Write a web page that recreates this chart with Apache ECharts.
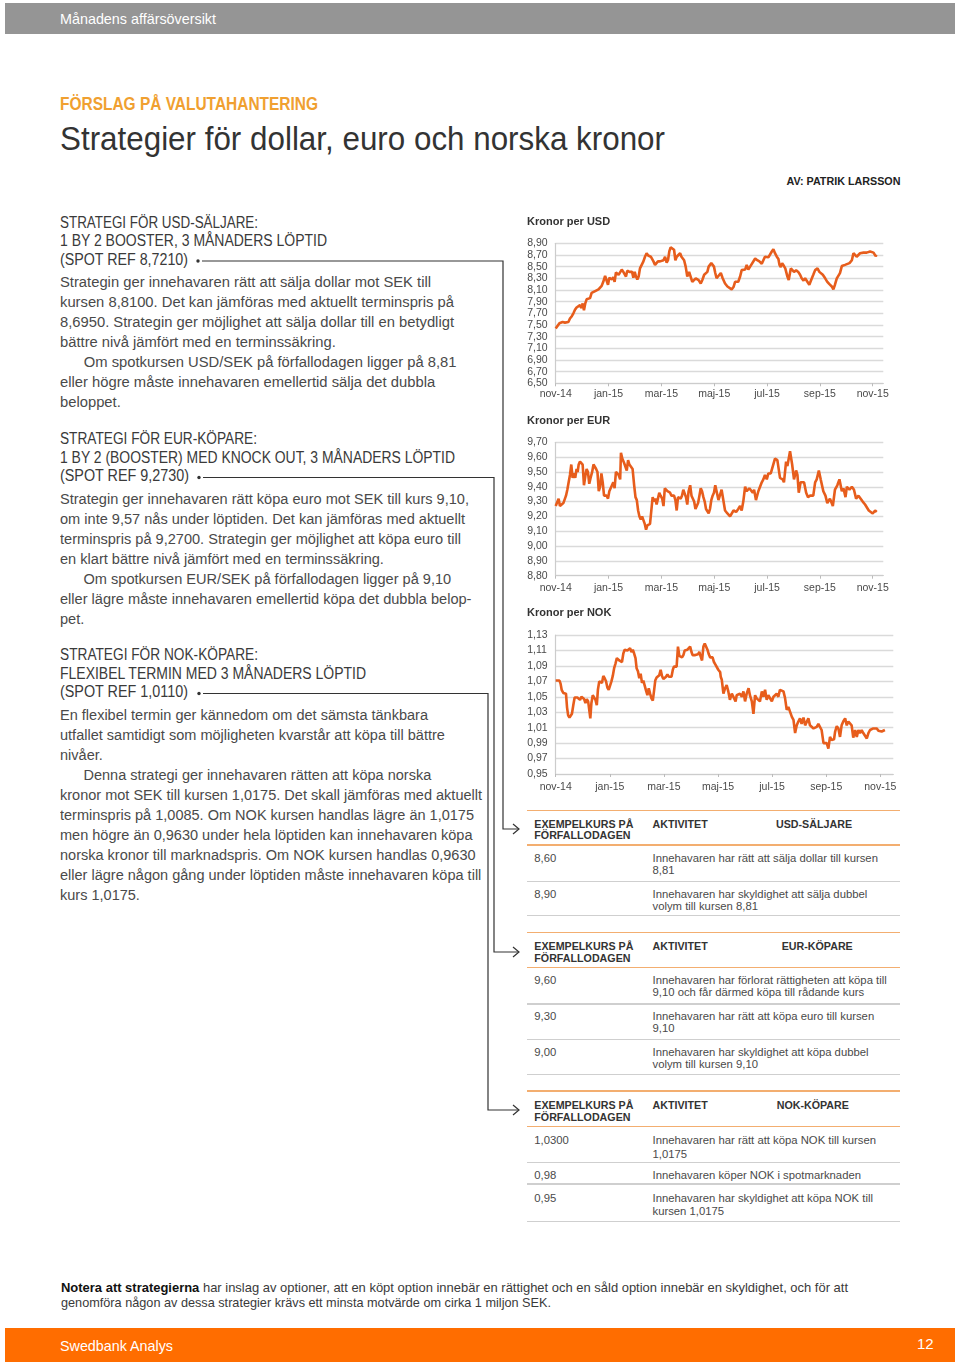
<!DOCTYPE html>
<html><head><meta charset="utf-8">
<script src="https://cdn.jsdelivr.net/npm/echarts@6/dist/echarts.min.js"></script>
<style>
html,body{margin:0;padding:0;background:#fff;}
body{width:960px;height:1368px;position:relative;overflow:hidden;font-family:"Liberation Sans",Arial,sans-serif;color:#4a4a4a;}
.abs{position:absolute;white-space:nowrap;transform-origin:left center;}
.bar{position:absolute;left:5px;width:950px;}
.hd{font-size:16px;line-height:18px;color:#3a3a3a;}
.body{font-size:15.5px;line-height:20px;color:#4a4a4a;}
.ind{display:inline-block;width:25px;}
.th{font-size:10.7px;font-weight:bold;line-height:14px;color:#333;}
.td{font-size:11.3px;line-height:14px;color:#4a4a4a;}
.hl{position:absolute;left:527px;width:373px;height:1.4px;}
#charts{position:absolute;left:520px;top:205px;width:390px;height:600px;}
svg{position:absolute;left:0;top:0;}
</style></head>
<body>
<div class="bar" style="top:3px;height:31px;background:#959595;"></div>
<div class="abs" data-w="156" style="left:60px;top:10px;font-size:14.5px;line-height:18px;color:#fff;">Månadens affärsöversikt</div>

<div class="abs" data-w="258" style="left:60px;top:93.5px;font-size:18px;line-height:20px;font-weight:bold;color:#f0a030;">FÖRSLAG PÅ VALUTAHANTERING</div>
<div class="abs" data-w="605" style="left:60px;top:122px;font-size:33px;line-height:34px;color:#333;">Strategier för dollar, euro och norska kronor</div>
<div class="abs" data-w="114" style="right:60px;top:174px;font-size:10.5px;line-height:14px;font-weight:bold;color:#222;transform-origin:right center;">AV: PATRIK LARSSON</div>

<!-- Block 1 -->
<div class="abs hd" data-w="198" style="left:60px;top:213.5px;">STRATEGI FÖR USD-SÄLJARE:</div>
<div class="abs hd" data-w="267" style="left:60px;top:232px;">1 BY 2 BOOSTER, 3 MÅNADERS LÖPTID</div>
<div class="abs hd" data-w="128" style="left:60px;top:250.5px;">(SPOT REF 8,7210)</div>
<div class="abs body" data-w="371" style="left:60px;top:271.7px;"><span class="m">Strategin ger innehavaren rätt att sälja dollar mot SEK till</span><br>kursen 8,8100. Det kan jämföras med aktuellt terminspris på<br>8,6950. Strategin ger möjlighet att sälja dollar till en betydligt<br>bättre nivå jämfört med en terminssäkring.<br><span class="ind"></span>Om spotkursen USD/SEK på förfallodagen ligger på 8,81<br>eller högre måste innehavaren emellertid sälja det dubbla<br>beloppet.</div>

<!-- Block 2 -->
<div class="abs hd" data-w="197" style="left:60px;top:430px;">STRATEGI FÖR EUR-KÖPARE:</div>
<div class="abs hd" data-w="395" style="left:60px;top:448.5px;">1 BY 2 (BOOSTER) MED KNOCK OUT, 3 MÅNADERS LÖPTID</div>
<div class="abs hd" data-w="129" style="left:60px;top:467px;">(SPOT REF 9,2730)</div>
<div class="abs body" data-w="409" style="left:60px;top:488.5px;"><span class="m">Strategin ger innehavaren rätt köpa euro mot SEK till kurs 9,10,</span><br>om inte 9,57 nås under löptiden. Det kan jämföras med aktuellt<br>terminspris på 9,2700. Strategin ger möjlighet att köpa euro till<br>en klart bättre nivå jämfört med en terminssäkring.<br><span class="ind"></span>Om spotkursen EUR/SEK på förfallodagen ligger på 9,10<br>eller lägre måste innehavaren emellertid köpa det dubbla belop-<br>pet.</div>

<!-- Block 3 -->
<div class="abs hd" data-w="198" style="left:60px;top:646px;">STRATEGI FÖR NOK-KÖPARE:</div>
<div class="abs hd" data-w="306" style="left:60px;top:664.5px;">FLEXIBEL TERMIN MED 3 MÅNADERS LÖPTID</div>
<div class="abs hd" data-w="128" style="left:60px;top:683px;">(SPOT REF 1,0110)</div>
<div class="abs body" data-w="368" style="left:60px;top:704.5px;"><span class="m">En flexibel termin ger kännedom om det sämsta tänkbara</span><br>utfallet samtidigt som möjligheten kvarstår att köpa till bättre<br>nivåer.<br><span class="ind"></span>Denna strategi ger innehavaren rätten att köpa norska<br>kronor mot SEK till kursen 1,0175. Det skall jämföras med aktuellt<br>terminspris på 1,0085. Om NOK kursen handlas lägre än 1,0175<br>men högre än 0,9630 under hela löptiden kan innehavaren köpa<br>norska kronor till marknadspris. Om NOK kursen handlas 0,9630<br>eller lägre någon gång under löptiden måste innehavaren köpa till<br>kurs 1,0175.</div>

<svg width="960" height="1368">
  <g fill="none" stroke="#333" stroke-width="1.2">
    <path d="M202 261 H503 V829 H519"/>
    <path d="M513 824 L519 829 L513 834"/>
    <path d="M203 477.5 H494 V952 H519"/>
    <path d="M513 947 L519 952 L513 957"/>
    <path d="M203 693.5 H488 V1110 H519"/>
    <path d="M513 1105 L519 1110 L513 1115"/>
  </g>
  <g fill="#333">
    <circle cx="198" cy="261" r="1.7"/>
    <circle cx="199" cy="477.5" r="1.7"/>
    <circle cx="199" cy="693.5" r="1.7"/>
  </g>
</svg>

<div id="charts"></div>

<div class="abs" data-w="787" style="left:61px;top:1280px;font-size:13px;line-height:16px;color:#3a3a3a;"><b style="color:#111">Notera att strategierna</b> har inslag av optioner, att en köpt option innebär en rättighet och en såld option innebär en skyldighet, och för att</div>
<div class="abs" data-w="490" style="left:61px;top:1295px;font-size:13px;line-height:16px;color:#3a3a3a;">genomföra någon av dessa strategier krävs ett minsta motvärde om cirka 1 miljon SEK.</div>

<div class="bar" style="top:1328px;height:34px;background:#ff6d00;"></div>
<div class="abs" data-w="113" style="left:60px;top:1337px;font-size:15px;line-height:18px;color:#fff;">Swedbank Analys</div>
<div class="abs" style="left:917px;top:1335px;font-size:15px;line-height:18px;color:#fff;">12</div>

<script>
// ---- Data (months since start of Nov 2014, rate) ----
const tickLabels = ['nov-14','jan-15','mar-15','maj-15','jul-15','sep-15','nov-15'];
const tickMonths = [0,2,4,6,8,10,12];

const usdSeries = [[0.00,7.44],[0.06,7.44],[0.14,7.53],[0.19,7.50],[0.26,7.55],[0.35,7.54],[0.42,7.52],[0.48,7.55],[0.54,7.61],[0.61,7.65],[0.67,7.70],[0.73,7.76],[0.79,7.80],[0.86,7.81],[0.92,7.84],[0.98,7.79],[1.02,7.87],[1.07,7.75],[1.12,7.87],[1.17,7.94],[1.24,7.93],[1.30,7.96],[1.36,8.05],[1.43,8.07],[1.53,8.09],[1.62,8.11],[1.68,8.13],[1.74,8.17],[1.80,8.24],[1.87,8.34],[1.93,8.33],[1.98,8.19],[2.03,8.31],[2.08,8.31],[2.13,8.28],[2.18,8.32],[2.23,8.24],[2.28,8.40],[2.33,8.37],[2.38,8.36],[2.44,8.39],[2.50,8.45],[2.56,8.41],[2.62,8.43],[2.66,8.33],[2.71,8.43],[2.79,8.41],[2.84,8.39],[2.89,8.41],[2.94,8.31],[2.99,8.41],[3.04,8.33],[3.09,8.28],[3.14,8.33],[3.19,8.47],[3.26,8.50],[3.32,8.59],[3.38,8.67],[3.44,8.73],[3.50,8.69],[3.55,8.71],[3.60,8.67],[3.65,8.64],[3.70,8.59],[3.76,8.53],[3.82,8.50],[3.87,8.59],[3.95,8.59],[4.01,8.59],[4.08,8.61],[4.14,8.67],[4.20,8.57],[4.25,8.61],[4.30,8.76],[4.35,8.83],[4.42,8.84],[4.48,8.79],[4.53,8.61],[4.58,8.67],[4.64,8.70],[4.71,8.73],[4.76,8.67],[4.81,8.64],[4.86,8.61],[4.92,8.50],[4.98,8.33],[5.05,8.41],[5.11,8.39],[5.17,8.24],[5.24,8.27],[5.30,8.30],[5.36,8.33],[5.41,8.27],[5.49,8.21],[5.55,8.27],[5.62,8.36],[5.68,8.39],[5.74,8.41],[5.79,8.50],[5.84,8.53],[5.89,8.56],[5.94,8.59],[5.99,8.50],[6.04,8.39],[6.09,8.30],[6.16,8.33],[6.25,8.39],[6.32,8.30],[6.41,8.21],[6.50,8.16],[6.57,8.13],[6.66,8.11],[6.73,8.15],[6.79,8.24],[6.85,8.27],[6.91,8.24],[6.98,8.33],[7.04,8.44],[7.10,8.47],[7.17,8.45],[7.23,8.53],[7.29,8.45],[7.36,8.50],[7.42,8.53],[7.55,8.64],[7.63,8.61],[7.71,8.59],[7.80,8.55],[7.86,8.56],[7.92,8.67],[7.99,8.64],[8.05,8.66],[8.11,8.67],[8.18,8.76],[8.24,8.80],[8.30,8.73],[8.37,8.67],[8.43,8.63],[8.47,8.53],[8.52,8.49],[8.57,8.56],[8.64,8.51],[8.69,8.47],[8.77,8.33],[8.82,8.27],[8.90,8.47],[8.95,8.44],[9.02,8.41],[9.10,8.44],[9.18,8.41],[9.25,8.36],[9.31,8.30],[9.38,8.26],[9.44,8.30],[9.50,8.27],[9.60,8.19],[9.67,8.27],[9.75,8.36],[9.82,8.44],[9.91,8.47],[9.98,8.41],[10.03,8.39],[10.11,8.36],[10.20,8.30],[10.28,8.24],[10.36,8.20],[10.45,8.16],[10.51,8.11],[10.57,8.19],[10.64,8.30],[10.70,8.27],[10.76,8.39],[10.83,8.51],[10.89,8.53],[10.95,8.53],[11.02,8.56],[11.12,8.56],[11.21,8.61],[11.27,8.73],[11.33,8.70],[11.39,8.67],[11.46,8.66],[11.52,8.73],[11.58,8.76],[11.65,8.74],[11.71,8.72],[11.77,8.74],[11.84,8.73],[11.90,8.76],[11.96,8.73],[12.03,8.74],[12.11,8.68],[12.15,8.70]];

const eurSeries = [[0.00,9.27],[0.06,9.28],[0.11,9.32],[0.16,9.27],[0.23,9.28],[0.29,9.29],[0.35,9.30],[0.39,9.34],[0.44,9.38],[0.49,9.43],[0.54,9.48],[0.59,9.55],[0.64,9.46],[0.69,9.49],[0.74,9.46],[0.79,9.52],[0.83,9.50],[0.87,9.55],[0.92,9.57],[0.97,9.56],[1.02,9.55],[1.07,9.41],[1.12,9.47],[1.17,9.52],[1.22,9.50],[1.27,9.42],[1.32,9.46],[1.38,9.50],[1.43,9.55],[1.48,9.56],[1.53,9.52],[1.58,9.50],[1.63,9.37],[1.68,9.40],[1.73,9.49],[1.78,9.43],[1.83,9.34],[1.88,9.33],[1.93,9.34],[1.98,9.32],[2.03,9.37],[2.08,9.36],[2.13,9.41],[2.18,9.43],[2.23,9.39],[2.28,9.50],[2.33,9.49],[2.38,9.48],[2.44,9.45],[2.47,9.63],[2.52,9.59],[2.59,9.56],[2.64,9.57],[2.69,9.51],[2.74,9.58],[2.79,9.55],[2.85,9.55],[2.91,9.52],[2.97,9.41],[3.02,9.33],[3.07,9.31],[3.12,9.24],[3.17,9.20],[3.22,9.18],[3.27,9.20],[3.32,9.21],[3.37,9.15],[3.42,9.11],[3.47,9.14],[3.52,9.15],[3.57,9.15],[3.62,9.24],[3.67,9.33],[3.72,9.30],[3.77,9.32],[3.82,9.28],[3.87,9.32],[3.92,9.36],[3.97,9.34],[4.03,9.32],[4.08,9.27],[4.13,9.39],[4.18,9.38],[4.23,9.37],[4.28,9.38],[4.33,9.36],[4.38,9.34],[4.43,9.33],[4.48,9.34],[4.53,9.31],[4.58,9.24],[4.63,9.33],[4.68,9.34],[4.73,9.32],[4.78,9.34],[4.83,9.38],[4.88,9.37],[4.93,9.33],[4.98,9.28],[5.03,9.37],[5.09,9.41],[5.14,9.34],[5.19,9.33],[5.24,9.30],[5.29,9.25],[5.34,9.25],[5.39,9.29],[5.44,9.34],[5.49,9.39],[5.54,9.37],[5.59,9.33],[5.64,9.30],[5.69,9.25],[5.74,9.24],[5.79,9.22],[5.84,9.25],[5.89,9.31],[5.94,9.34],[5.99,9.36],[6.04,9.41],[6.09,9.37],[6.16,9.31],[6.28,9.38],[6.41,9.24],[6.50,9.22],[6.60,9.20],[6.73,9.24],[6.83,9.23],[6.91,9.25],[6.98,9.27],[7.04,9.24],[7.10,9.30],[7.17,9.40],[7.23,9.37],[7.33,9.39],[7.38,9.40],[7.46,9.36],[7.51,9.38],[7.58,9.31],[7.67,9.37],[7.74,9.38],[7.80,9.43],[7.86,9.45],[7.92,9.48],[7.99,9.45],[8.05,9.49],[8.14,9.49],[8.21,9.50],[8.30,9.59],[8.39,9.58],[8.44,9.58],[8.49,9.46],[8.59,9.45],[8.64,9.43],[8.72,9.57],[8.77,9.54],[8.87,9.64],[8.95,9.55],[9.02,9.45],[9.10,9.51],[9.15,9.48],[9.20,9.36],[9.27,9.43],[9.40,9.43],[9.48,9.36],[9.55,9.33],[9.63,9.34],[9.69,9.33],[9.75,9.34],[9.82,9.43],[9.88,9.45],[9.96,9.51],[10.03,9.45],[10.13,9.37],[10.21,9.34],[10.28,9.29],[10.38,9.32],[10.49,9.27],[10.57,9.38],[10.66,9.41],[10.74,9.45],[10.83,9.37],[10.89,9.39],[10.97,9.33],[11.02,9.40],[11.12,9.38],[11.21,9.40],[11.29,9.38],[11.37,9.32],[11.46,9.34],[11.52,9.33],[11.62,9.30],[11.71,9.28],[11.77,9.27],[11.85,9.24],[11.92,9.25],[12.00,9.22],[12.09,9.24],[12.15,9.23]];

const nokSeries = [[0.00,1.071],[0.06,1.072],[0.14,1.071],[0.18,1.067],[0.22,1.059],[0.28,1.055],[0.33,1.057],[0.38,1.054],[0.42,1.036],[0.46,1.026],[0.51,1.023],[0.55,1.022],[0.60,1.028],[0.65,1.039],[0.70,1.049],[0.75,1.050],[0.80,1.049],[0.85,1.048],[0.90,1.046],[0.95,1.050],[1.00,1.052],[1.05,1.047],[1.10,1.042],[1.15,1.047],[1.20,1.044],[1.24,1.042],[1.28,1.022],[1.32,1.042],[1.37,1.052],[1.42,1.050],[1.47,1.046],[1.52,1.039],[1.56,1.059],[1.61,1.070],[1.66,1.071],[1.71,1.068],[1.76,1.077],[1.81,1.074],[1.86,1.070],[1.91,1.062],[1.96,1.059],[2.01,1.058],[2.06,1.070],[2.11,1.077],[2.16,1.087],[2.21,1.093],[2.26,1.100],[2.30,1.098],[2.35,1.097],[2.40,1.099],[2.45,1.095],[2.50,1.106],[2.55,1.111],[2.60,1.111],[2.65,1.110],[2.70,1.111],[2.75,1.113],[2.80,1.108],[2.85,1.111],[2.90,1.106],[2.95,1.100],[2.99,1.087],[3.04,1.083],[3.09,1.074],[3.14,1.080],[3.19,1.068],[3.24,1.071],[3.29,1.070],[3.34,1.058],[3.39,1.052],[3.44,1.061],[3.49,1.054],[3.54,1.048],[3.59,1.045],[3.64,1.059],[3.68,1.071],[3.73,1.075],[3.78,1.075],[3.83,1.078],[3.88,1.085],[3.93,1.077],[3.98,1.073],[4.03,1.071],[4.08,1.076],[4.13,1.079],[4.18,1.076],[4.23,1.074],[4.28,1.076],[4.33,1.085],[4.37,1.089],[4.42,1.087],[4.47,1.089],[4.52,1.115],[4.57,1.103],[4.62,1.104],[4.67,1.101],[4.72,1.104],[4.77,1.110],[4.82,1.111],[4.87,1.111],[4.92,1.113],[4.97,1.115],[5.02,1.108],[5.06,1.104],[5.11,1.105],[5.16,1.104],[5.21,1.102],[5.26,1.105],[5.31,1.108],[5.36,1.102],[5.41,1.097],[5.46,1.115],[5.51,1.119],[5.56,1.117],[5.61,1.111],[5.66,1.105],[5.71,1.101],[5.75,1.100],[5.80,1.101],[5.85,1.095],[5.90,1.092],[5.95,1.093],[6.01,1.085],[6.08,1.082],[6.10,1.076],[6.14,1.072],[6.20,1.054],[6.26,1.061],[6.32,1.065],[6.38,1.057],[6.44,1.046],[6.51,1.054],[6.57,1.052],[6.65,1.044],[6.69,1.052],[6.75,1.050],[6.81,1.054],[6.88,1.050],[6.94,1.057],[7.00,1.044],[7.06,1.054],[7.13,1.061],[7.18,1.052],[7.25,1.044],[7.31,1.028],[7.37,1.052],[7.43,1.048],[7.49,1.050],[7.55,1.044],[7.62,1.057],[7.68,1.050],[7.74,1.059],[7.80,1.046],[7.86,1.052],[7.92,1.054],[7.99,1.044],[8.05,1.050],[8.11,1.050],[8.17,1.054],[8.23,1.050],[8.29,1.059],[8.36,1.059],[8.42,1.057],[8.48,1.048],[8.54,1.033],[8.60,1.037],[8.66,1.035],[8.73,1.024],[8.79,1.020],[8.85,1.003],[8.91,1.013],[8.97,1.018],[9.03,1.022],[9.09,1.015],[9.16,1.023],[9.22,1.013],[9.28,1.013],[9.34,1.022],[9.40,1.013],[9.46,1.015],[9.53,1.009],[9.59,1.010],[9.65,1.011],[9.71,1.015],[9.77,1.015],[9.83,1.007],[9.90,0.990],[9.96,0.990],[10.02,0.990],[10.08,0.983],[10.14,0.998],[10.20,0.994],[10.29,0.995],[10.33,1.005],[10.39,1.012],[10.45,1.009],[10.51,0.998],[10.57,1.013],[10.63,1.018],[10.70,1.022],[10.76,1.013],[10.82,1.018],[10.88,1.018],[10.94,1.013],[11.00,0.997],[11.07,1.007],[11.13,0.998],[11.19,1.007],[11.25,1.003],[11.31,1.007],[11.37,1.003],[11.44,1.003],[11.50,0.996],[11.56,1.003],[11.62,1.007],[11.68,1.006],[11.74,1.009],[11.81,1.008],[11.87,1.009],[11.93,1.006],[11.99,1.007],[12.05,1.005],[12.11,1.005],[12.17,1.007]];

const chartTitles = ['Kronor per USD','Kronor per EUR','Kronor per NOK'];
const yRanges = [[6.5,8.9,0.2],[8.8,9.7,0.1],[0.95,1.13,0.02]];

// ---- Tables ----
const tables = [
  {top:[810.7,845], th:[823.5,834.5], title:'USD-SÄLJARE', titleX:776,
   rows:[{y:[857.5,869.5], k:'8,60', t:['Innehavaren har rätt att sälja dollar till kursen','8,81']},
         {y:[894,906], k:'8,90', t:['Innehavaren har skyldighet att sälja dubbel','volym till kursen 8,81']}],
   lines:[881.7,915.7]},
  {top:[932.3,967.3], th:[946,957.5], title:'EUR-KÖPARE', titleX:781.7,
   rows:[{y:[980,992], k:'9,60', t:['Innehavaren har förlorat rättigheten att köpa till','9,10 och får därmed köpa till rådande kurs']},
         {y:[1016,1028], k:'9,30', t:['Innehavaren har rätt att köpa euro till kursen','9,10']},
         {y:[1052,1063.5], k:'9,00', t:['Innehavaren har skyldighet att köpa dubbel','volym till kursen 9,10']}],
   lines:[1004,1039.3,1074.3]},
  {top:[1091,1126.7], th:[1104.5,1116.7], title:'NOK-KÖPARE', titleX:776.7,
   rows:[{y:[1140,1153.5], k:'1,0300', t:['Innehavaren har rätt att köpa NOK till kursen','1,0175']},
         {y:[1174.5], k:'0,98', t:['Innehavaren köper NOK i spotmarknaden']},
         {y:[1197.8,1211], k:'0,95', t:['Innehavaren har skyldighet att köpa NOK till','kursen 1,0175']}],
   lines:[1162.3,1184,1221.7]}
];
function txt(x, cy, s, cls){
  const d=document.createElement('div'); d.className='abs '+cls;
  d.style.left=x+'px'; d.style.top=(cy-7)+'px'; d.textContent=s; document.body.appendChild(d);
}
function hline(y, color){
  const d=document.createElement('div'); d.className='hl';
  d.style.top=(y-0.7)+'px'; d.style.background=color; document.body.appendChild(d);
}
tables.forEach(tb=>{
  tb.top.forEach(y=>hline(y,'#f3ae70'));
  tb.lines.forEach(y=>hline(y,'#cfcfcf'));
  txt(534.3, tb.th[0], 'EXEMPELKURS PÅ', 'th');
  txt(534.3, tb.th[1], 'FÖRFALLODAGEN', 'th');
  txt(652.5, tb.th[0], 'AKTIVITET', 'th');
  txt(tb.titleX, tb.th[0], tb.title, 'th');
  tb.rows.forEach(r=>{
    txt(534.3, r.y[0], r.k, 'td');
    r.t.forEach((s,i)=>txt(652.5, r.y[i], s, 'td'));
  });
});

// ---- Text fitting ----
function applyFit(){
  document.querySelectorAll('[data-w]').forEach(el=>{
    el.style.transform='none';
    const ref = el.querySelector('.m') || el;
    const w = ref.getBoundingClientRect().width;
    if(w>0) el.style.transform='scaleX('+(parseFloat(el.dataset.w)/w)+')';
  });
}
applyFit();
if(document.fonts && document.fonts.ready) document.fonts.ready.then(applyFit);

// ---- Charts ----
const FF = '"Liberation Sans", Arial, sans-serif';
const chart = echarts.init(document.getElementById('charts'));
const grids = [
  {left:35.7, top:38.3, width:327.6, height:140},
  {left:35.7, top:237.3, width:327.6, height:133.4},
  {left:35.7, top:430, width:337.6, height:139}
];
const xMax = [12.40, 12.40, 12.48];
const xMargin = [5.5, 7, 7.5];
const titleTops = [10, 209.5, 401.8];
const seriesData = [usdSeries, eurSeries, nokSeries];

const option = {
  animation:false,
  title: chartTitles.map((t,i)=>({text:t, left:7, top:titleTops[i], padding:0,
    textStyle:{fontSize:11, fontWeight:'bold', color:'#333', fontFamily:FF, lineHeight:13}})),
  grid: grids,
  xAxis: grids.map((g,i)=>({
    type:'value', gridIndex:i, min:0, max:xMax[i],
    splitLine:{show:false},
    axisLine:{show:true, lineStyle:{color:'#cccccc', width:1.2}},
    axisTick:{show:true, length:3, customValues:tickMonths, lineStyle:{color:'#bbbbbb'}},
    axisLabel:{customValues:tickMonths, margin:xMargin[i], fontSize:10.5, color:'#4a4a4a', fontFamily:FF,
      formatter:v=>{const k=v/2; return Math.abs(k-Math.round(k))<1e-6 ? (tickLabels[Math.round(k)]||'') : '';}}
  })),
  yAxis: yRanges.map((r,i)=>({
    type:'value', gridIndex:i, min:r[0], max:r[1], interval:r[2],
    axisLine:{show:true, lineStyle:{color:'#cccccc', width:1.2}},
    axisTick:{show:false},
    splitLine:{show:true, lineStyle:{color:'#dadada', width:1.3}},
    axisLabel:{align:'left', margin:28.5, fontSize:10.5, color:'#4a4a4a', fontFamily:FF,
      formatter:v=>v.toFixed(2).replace('.',',')}
  })),
  series: seriesData.map((d,i)=>({
    type:'line', xAxisIndex:i, yAxisIndex:i, data:d, showSymbol:false, symbol:'none',
    lineStyle:{color:'#e75d1c', width:2.6}, itemStyle:{color:'#e75d1c'}
  }))
};
chart.setOption(option);
</script>
</body></html>
